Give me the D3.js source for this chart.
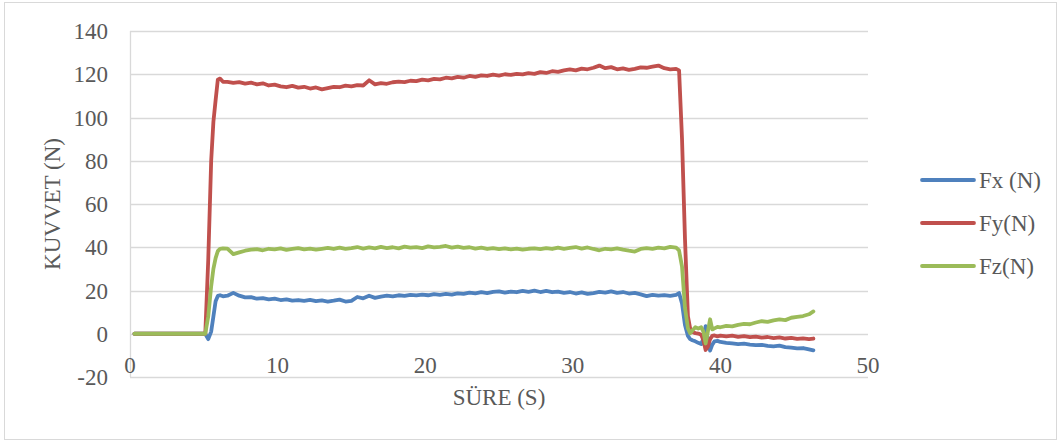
<!DOCTYPE html>
<html><head><meta charset="utf-8">
<script src="https://cdn.jsdelivr.net/npm/d3@7"></script>
<style>body{margin:0;background:#fff}svg{display:block}</style>
</head><body>
<svg id="c" width="1061" height="445"></svg>
<script>
// ---- data ----
const time = [0.3,1,2,3,4,5,5.1,5.3,5.5,5.65,5.8,5.95,6.1,6.3,
6.6,7.0,7.4,7.8,8.2,8.6,9.0,9.4,9.8,10.2,10.6,11.0,11.4,11.8,12.2,12.6,13.0,13.4,13.8,14.2,14.6,15.0,15.4,15.8,16.2,16.6,17.0,17.4,17.8,18.2,18.6,19.0,19.4,19.8,20.2,20.6,21.0,21.4,21.8,22.2,22.6,23.0,23.4,23.8,24.2,24.6,25.0,25.4,25.8,26.2,26.6,27.0,27.4,27.8,28.2,28.6,29.0,29.4,29.8,30.2,30.6,31.0,31.4,31.8,32.2,32.6,33.0,33.4,33.8,34.2,34.6,35.0,35.4,35.8,36.2,36.6,37.0,
37.2,37.4,37.6,37.8,37.95,38.1,38.3,38.5,38.7,38.85,39.0,39.15,39.3,39.45,39.6,39.8,40.0,
40.4,40.8,41.2,41.6,42.0,42.4,42.8,43.2,43.6,44.0,44.4,44.8,45.2,45.6,46.0,46.3];

const fx = [0,0,0,0,0,0,0,-2.5,1,8,15,17.5,17.8,17.3,
17.6,18.9,17.6,16.8,16.9,16.2,16.5,15.9,16.2,15.6,15.9,15.3,15.6,15.2,15.7,15.1,15.4,14.9,15.3,15.8,14.9,15.2,17.0,16.4,17.6,16.6,17.2,17.6,17.3,17.8,17.5,18.0,17.7,18.1,17.8,18.3,18.0,18.4,18.1,18.7,18.4,19.0,18.7,19.2,18.8,19.4,19.6,19.0,19.5,19.2,19.8,19.4,19.9,19.3,19.8,19.2,19.5,18.9,19.3,18.6,19.1,18.4,18.8,19.4,19.0,19.6,18.9,19.3,18.6,18.9,18.2,17.4,18.0,17.6,17.9,17.5,18.0,
18.8,14,4,-1,-2.5,-3,-3.5,-4.2,-4.8,-2,3.5,-3,-7.8,-5,-3.5,-3.3,-3.8,
-4.2,-4.5,-4.8,-4.6,-5.0,-5.3,-5.1,-5.6,-5.8,-5.5,-6.2,-6.4,-6.8,-6.6,-7.2,-7.7];

const fy = [0,0,0,0,0,0,0,34,80,98,108,117.5,118,116.5,
116.5,116.0,116.4,115.7,116.1,115.3,115.8,114.8,115.2,114.4,114.0,114.6,113.8,114.2,113.4,113.9,113.0,113.6,114.2,114.0,114.7,114.4,115.0,114.8,117.2,115.3,115.9,115.6,116.3,116.6,116.4,117.0,116.8,117.5,117.2,117.9,117.6,118.4,118.1,118.8,118.4,119.2,118.8,119.5,119.2,119.8,119.4,120.0,119.7,120.2,119.9,120.5,120.2,121.0,120.6,121.4,121.1,121.8,122.2,121.8,122.6,122.3,123.0,124.0,122.8,123.3,122.3,122.7,122.0,122.5,123.2,123.0,123.5,124.0,122.8,122.3,122.5,
121.8,90,44,8,2.5,0.8,0.3,0.1,-0.5,-3,-7.5,-6,-2.5,-1,-0.8,-1.2,-0.9,
-1.2,-0.9,-1.4,-1.1,-1.6,-1.3,-1.8,-1.5,-2.0,-1.7,-2.2,-1.9,-2.4,-2.1,-2.5,-2.2];

const fz = [0,0,0,0,0,0,0,8,22,30,35,38.2,39.3,39.5,
39.4,36.8,37.6,38.4,38.9,39.1,38.6,39.3,39.0,39.5,38.8,39.2,39.6,39.0,39.4,38.9,39.3,39.7,39.2,39.8,39.3,39.6,40.1,39.4,39.9,39.5,40.2,39.6,40.0,39.5,40.3,39.8,40.1,39.6,40.4,39.9,40.2,40.6,39.8,40.3,39.7,40.0,39.4,39.8,39.2,39.6,39.1,39.5,39.0,39.4,38.9,39.3,39.5,39.1,39.6,39.2,39.8,39.3,39.7,40.1,39.4,39.9,39.2,38.6,39.3,39.0,39.5,38.9,38.4,38.0,39.2,39.6,39.3,39.8,39.5,40.2,39.8,
38.5,31,12,2.5,0.2,1.5,3,2.4,3,1,-4.5,1,6.7,2,2.5,3.2,3.0,
3.6,3.4,4.1,4.6,4.4,5.2,5.8,5.5,6.2,6.6,6.3,7.4,7.8,8.2,9.0,10.3];

const seriesNames = ["Fx (N)","Fy(N)","Fz(N)"];
const seriesColors = ["#4F81BD","#C0504D","#9BBB59"];
const xTicks = [0,10,20,30,40,50];
const yTicks = [-20,0,20,40,60,80,100,120,140];
const xTitle = "SÜRE (S)";
const yTitle = "KUVVET (N)";

// ---- drawing ----
const svg = d3.select("#c");
const font = "'Liberation Serif','Times New Roman',serif";
const txt = "#595959";
const fs = 23;

svg.append("rect").attr("x",4.5).attr("y",2.5).attr("width",1052).attr("height",437)
  .attr("fill","#fff").attr("stroke","#D9D9D9").attr("stroke-width",1);

const x = d3.scaleLinear().domain([0,50]).range([130,868]);
const y = d3.scaleLinear().domain([-20,140]).range([377,31]);

// gridlines
svg.append("g").selectAll("line").data(yTicks).join("line")
  .attr("x1",x(0)).attr("x2",x(50))
  .attr("y1",d=>Math.round(y(d))+0.5).attr("y2",d=>Math.round(y(d))+0.5)
  .attr("stroke","#D9D9D9").attr("stroke-width",1.3);
// left axis line
svg.append("line").attr("x1",x(0)+0.5).attr("x2",x(0)+0.5).attr("y1",y(140)).attr("y2",y(-20))
  .attr("stroke","#D9D9D9").attr("stroke-width",1.3);

// y tick labels
svg.append("g").selectAll("text").data(yTicks).join("text")
  .attr("x",108).attr("y",d=>y(d)).attr("dy","0.35em").attr("text-anchor","end")
  .attr("font-family",font).attr("font-size",fs).attr("fill",txt).text(d=>d);
// x tick labels
svg.append("g").selectAll("text").data(xTicks).join("text")
  .attr("x",d=>x(d)).attr("y",365).attr("dy","0.35em").attr("text-anchor","middle")
  .attr("font-family",font).attr("font-size",fs).attr("fill",txt).text(d=>d);

// titles
svg.append("text").attr("x",499).attr("y",397).attr("dy","0.35em").attr("text-anchor","middle")
  .attr("font-family",font).attr("font-size",fs).attr("fill",txt).text(xTitle);
svg.append("text").attr("transform","translate(52,204) rotate(-90)").attr("dy","0.35em")
  .attr("text-anchor","middle").attr("font-family",font).attr("font-size",fs).attr("fill",txt).text(yTitle);

// lines
const data = [fx,fy,fz];
const line = d3.line().x((d,i)=>x(time[i])).y(d=>y(d));
svg.append("g").selectAll("path").data(data).join("path")
  .attr("d",line).attr("fill","none")
  .attr("stroke",(d,i)=>seriesColors[i]).attr("stroke-width",3.8)
  .attr("stroke-linejoin","round").attr("stroke-linecap","round");

// legend
const lg = svg.append("g").selectAll("g").data(seriesNames).join("g")
  .attr("transform",(d,i)=>`translate(0,${180+i*43})`);
lg.append("line").attr("x1",922).attr("x2",974).attr("y1",0).attr("y2",0)
  .attr("stroke",(d,i)=>seriesColors[i]).attr("stroke-width",3.8).attr("stroke-linecap","round");
lg.append("text").attr("x",979).attr("y",0).attr("dy","0.35em")
  .attr("font-family",font).attr("font-size",fs).attr("fill",txt).text(d=>d);
</script>
</body></html>
